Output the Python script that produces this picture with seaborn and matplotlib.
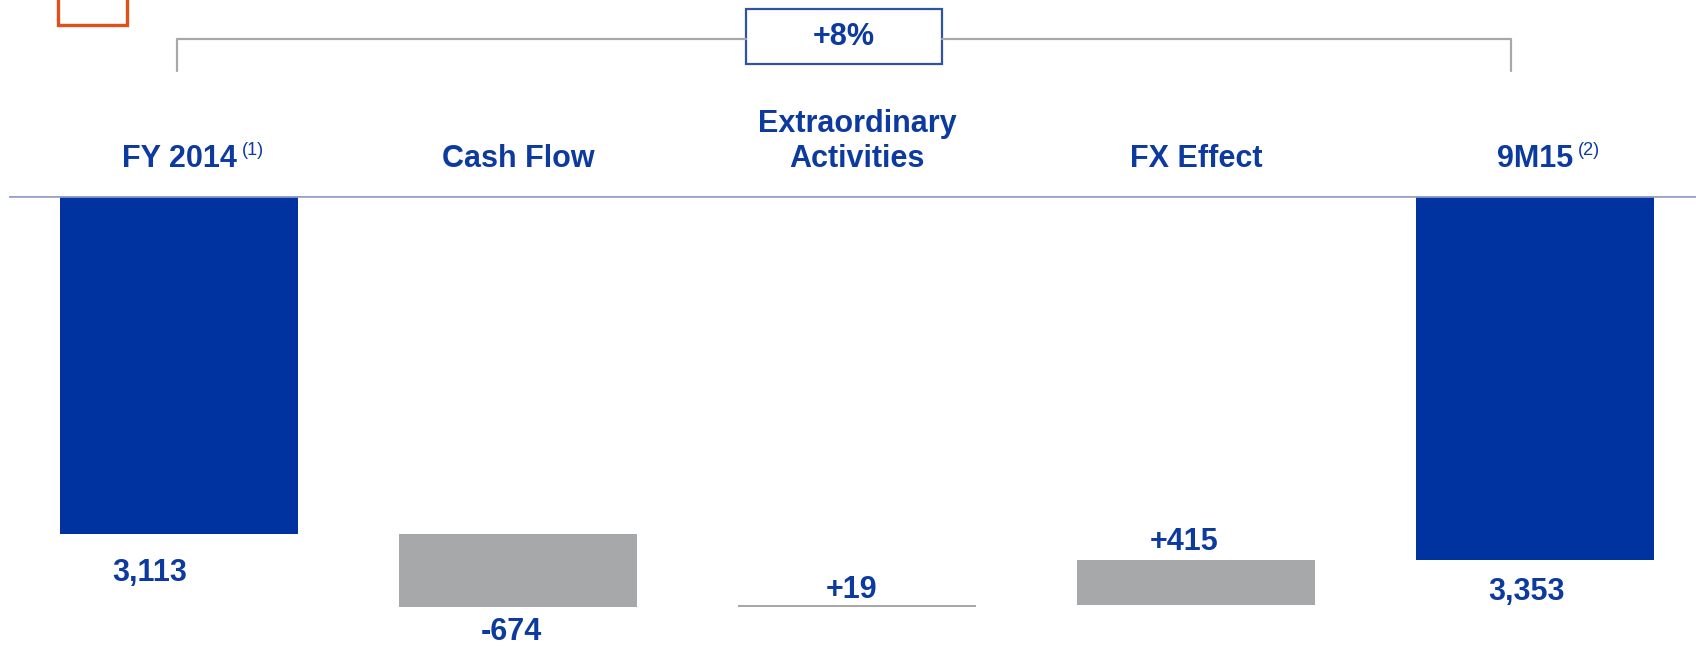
import numpy as np
import pandas as pd
import matplotlib
matplotlib.use("Agg")
import matplotlib.pyplot as plt
import seaborn as sns
from matplotlib.patches import Rectangle
from matplotlib.lines import Line2D

# ---- data ----
categories = ["FY 2014", "Cash Flow", "Extraordinary\nActivities", "FX Effect", "9M15"]
footnotes = ["(1)", "", "", "", "(2)"]
start_value = 3113
deltas = [-674, 19, 415]          # shown values (a negative value raises the total)
end_value = 3353
value_labels = ["3,113", "-674", "+19", "+415", "3,353"]
growth_label = "+8%"

# waterfall geometry from data (bars hang down from zero)
heights, bottoms = [start_value], [0]
level = start_value
for d in deltas:
    new_level = level - d
    heights.append(abs(d))
    bottoms.append(min(level, new_level))
    level = new_level
heights.append(end_value)
bottoms.append(0)

df = pd.DataFrame({"cat": categories, "h": heights, "b": bottoms})

BLUE = "#0033A0"
GRAY = "#A7A8AA"
TXT = "#0D3A9F"
bar_colors = [BLUE, GRAY, GRAY, GRAY, BLUE]

sns.set_theme(style="white")
plt.rcParams["font.family"] = ["Liberation Sans", "DejaVu Sans"]

W, H = 1696, 648
fig = plt.figure(figsize=(W / 100, H / 100), dpi=100)
ax = fig.add_axes([9 / W, 0, 1 - 9 / W, (H - 196) / H])

sns.barplot(data=df, x="cat", y="h", bottom=df["b"].values, width=0.702,
            color=BLUE, errorbar=None, ax=ax, zorder=2)
for p, c in zip(ax.patches, bar_colors):
    p.set_facecolor(c)
    p.set_edgecolor("none")

ax.set_xlim(-0.5016, 4.476)
ax.set_ylim(452 / 0.10857, 0)
for s in ax.spines.values():
    s.set_visible(False)
ax.set_xticks([])
ax.set_yticks([])
ax.set_xlabel("")
ax.set_ylabel("")
ax.axhline(0, color="#969ECA", lw=1.9, zorder=3)

# category labels above the line
fs = 22
for i, (cat, fn) in enumerate(zip(categories, footnotes)):
    t = ax.annotate(cat, xy=(i, 0), xycoords="data", xytext=(0, 196 - 167),
                    textcoords="offset pixels", ha="center", va="baseline",
                    fontsize=fs, fontweight="bold", color=TXT,
                    linespacing=1.2, annotation_clip=False)
    if fn:
        ax.annotate(fn, xy=(1, 1), xycoords=t, xytext=(5, 2),
                    textcoords="offset pixels", ha="left", va="top",
                    fontsize=13, color=TXT, annotation_clip=False)

# value labels
label_offsets = [(-29, -47), (-7, -33), (-5, 7), (-12, 10), (-8, -40)]
ends = []
for i in range(len(categories)):
    b, h = bottoms[i], heights[i]
    if i == 0 or i == len(categories) - 1:
        ends.append(b + h)
    elif deltas[i - 1] < 0:
        ends.append(b + h)
    else:
        ends.append(b)
for i, (lab, y, off) in enumerate(zip(value_labels, ends, label_offsets)):
    ax.annotate(lab, xy=(i, y), xycoords="data", xytext=off,
                textcoords="offset pixels", ha="center", va="baseline",
                fontsize=fs, fontweight="bold", color=TXT, annotation_clip=False)

# overlay in pixel coordinates for the bracket and decorations
ov = fig.add_axes([0, 0, 1, 1], facecolor="none")
ov.set_xlim(0, W)
ov.set_ylim(H, 0)
ov.axis("off")
br = "#A8A8A8"
ov.add_line(Line2D([177, 177, 746], [71, 39, 39], color=br, lw=1.6))
ov.add_line(Line2D([942, 1511, 1511], [39, 39, 71], color=br, lw=1.6))
ov.add_patch(Rectangle((746, 9), 196, 55, facecolor="white", edgecolor="#2F52A3", lw=1.6))
ov.text(844, 37, growth_label, ha="center", va="center", fontsize=fs,
        fontweight="bold", color=TXT)
ov.add_patch(Rectangle((58, -20), 69, 45, facecolor="none", edgecolor="#E0501A", lw=2.4,
                       clip_on=False))

fig.savefig("out.png", dpi=100)
